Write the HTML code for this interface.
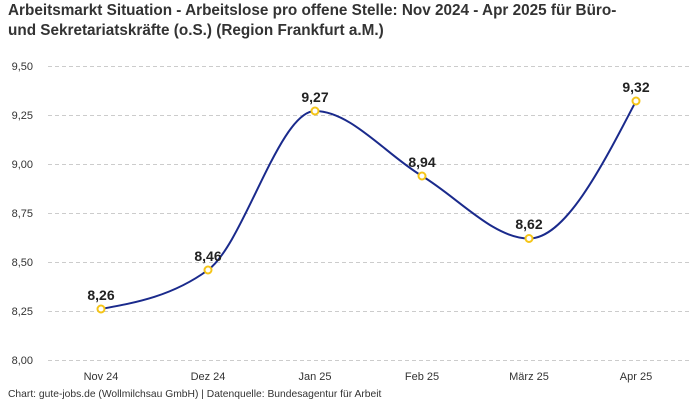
<!DOCTYPE html>
<html><head><meta charset="utf-8"><style>
body{margin:0;background:#fff;}
svg{display:block;font-family:"Liberation Sans",sans-serif;}
</style></head><body>
<svg width="700" height="400" viewBox="0 0 700 400" xmlns="http://www.w3.org/2000/svg">
<text x="8" y="15" font-size="15.3" font-weight="bold" fill="#333">Arbeitsmarkt Situation - Arbeitslose pro offene Stelle: Nov 2024 - Apr 2025 für Büro-</text>
<text x="8" y="35" font-size="15.3" font-weight="bold" fill="#333">und Sekretariatskräfte (o.S.) (Region Frankfurt a.M.)</text>
<g stroke="#ccc" stroke-width="1" stroke-dasharray="4,3">
<line x1="48" x2="690" y1="66.5" y2="66.5"/><line x1="48" x2="690" y1="115.5" y2="115.5"/>
<line x1="48" x2="690" y1="164.5" y2="164.5"/><line x1="48" x2="690" y1="213.5" y2="213.5"/>
<line x1="48" x2="690" y1="262.5" y2="262.5"/><line x1="48" x2="690" y1="311.5" y2="311.5"/>
<line x1="48" x2="690" y1="360.5" y2="360.5"/>
</g>
<g font-size="11" fill="#333" text-anchor="end">
<text x="33" y="70">9,50</text><text x="33" y="119">9,25</text><text x="33" y="168">9,00</text>
<text x="33" y="217">8,75</text><text x="33" y="266">8,50</text><text x="33" y="315">8,25</text><text x="33" y="364">8,00</text>
</g>
<g font-size="11" fill="#333" text-anchor="middle">
<text x="101" y="380">Nov 24</text><text x="208" y="380">Dez 24</text><text x="315" y="380">Jan 25</text>
<text x="422" y="380">Feb 25</text><text x="529" y="380">März 25</text><text x="636" y="380">Apr 25</text>
</g>
<path d="M101,309 C136.67,302.5 172.33,296 208,270 C243.67,244 279.33,111 315,111 C350.67,111 386.33,154.7 422,176 C457.67,197.3 493.33,238.5 529,238.5 C564.67,238.5 600.33,169.75 636,101" fill="none" stroke="#1a2a8c" stroke-width="2"/>
<g fill="#fff" stroke="#f5c518" stroke-width="2">
<circle cx="101" cy="309" r="3.5"/><circle cx="208" cy="270" r="3.5"/><circle cx="315" cy="111" r="3.5"/>
<circle cx="422" cy="176" r="3.5"/><circle cx="529" cy="238.5" r="3.5"/><circle cx="636" cy="101" r="3.5"/>
</g>
<g font-size="14" font-weight="bold" fill="#222" text-anchor="middle">
<text x="101" y="300">8,26</text><text x="208" y="261">8,46</text><text x="315" y="102">9,27</text>
<text x="422" y="167">8,94</text><text x="529" y="229">8,62</text><text x="636" y="92">9,32</text>
</g>
<text x="8" y="397" font-size="10.3" fill="#333">Chart: gute-jobs.de (Wollmilchsau GmbH) | Datenquelle: Bundesagentur für Arbeit</text>
</svg>
</body></html>
